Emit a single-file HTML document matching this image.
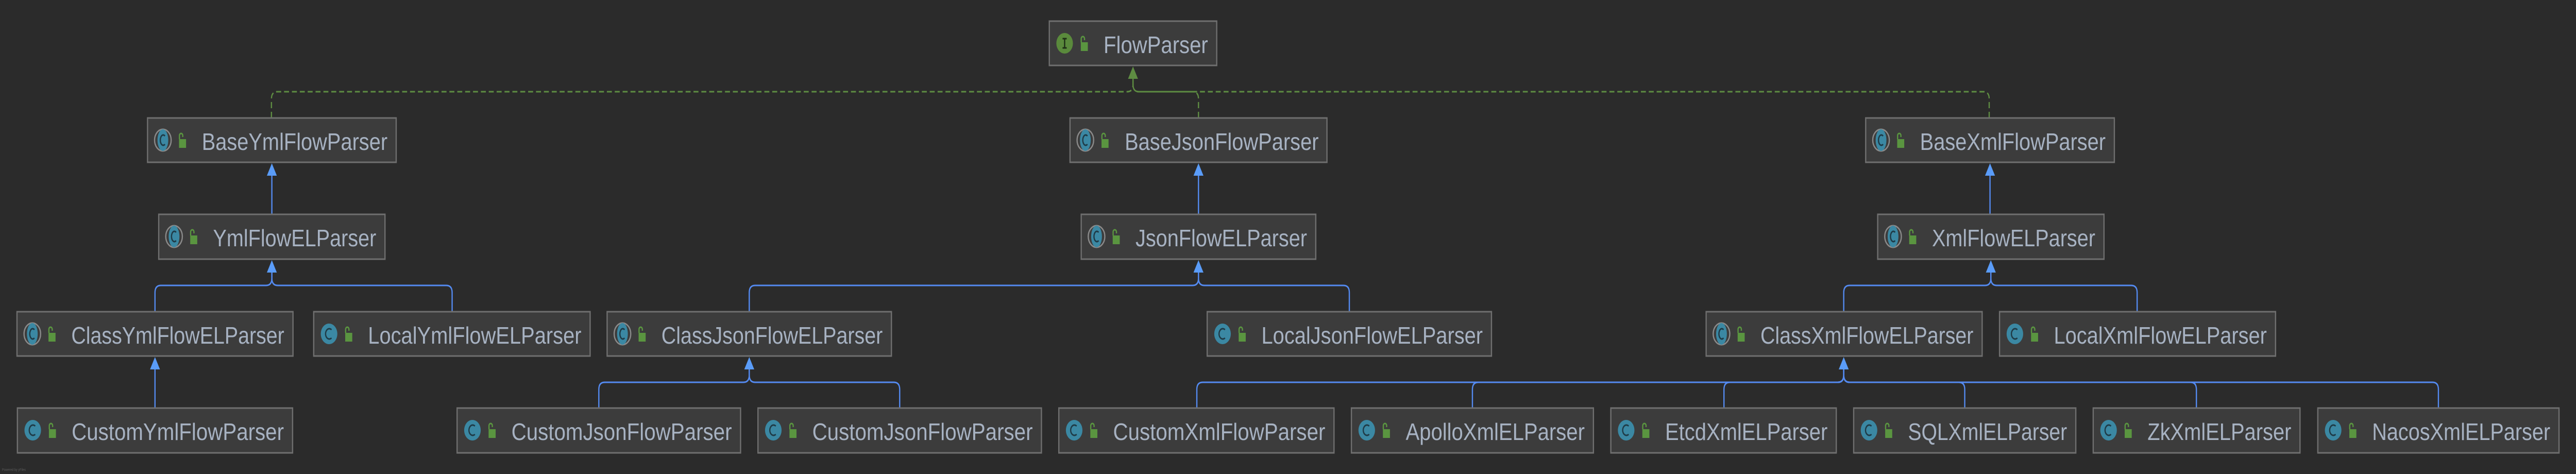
<!DOCTYPE html>
<html><head><meta charset="utf-8"><style>
html,body{margin:0;padding:0;background:#2b2b2b;overflow:hidden;width:100%;height:100%;}
svg{display:block;width:100vw;height:100vh;}
.b{fill:#3c3c3c;stroke:#6f6f6f;stroke-width:3;}
.t{font-family:"Liberation Sans",sans-serif;font-size:46px;fill:#a7b2c2;}
.ln{fill:none;stroke:#548af0;stroke-width:3;}
.ah{fill:#5a9cf8;}
.dl{fill:none;stroke:#5e8c42;stroke-width:3;stroke-dasharray:12 7;}
</style></head><body>
<svg viewBox="0 0 6216 920" preserveAspectRatio="none" xmlns="http://www.w3.org/2000/svg">
<defs>
<g id="ci"><circle cx="37" cy="43" r="20" fill="#3b88a3"/><path d="M43 35 A9 10 0 1 0 43 51" fill="none" stroke="#1f3b47" stroke-width="3"/></g>
<g id="ca"><ellipse cx="37" cy="43" rx="20" ry="21" fill="none" stroke="#8a8a8a" stroke-width="3"/><ellipse cx="37" cy="43" rx="13" ry="21" fill="#3b88a3"/><path d="M42 35 A7 10 0 1 0 42 51" fill="none" stroke="#1f3b47" stroke-width="3"/></g>
<g id="lk"><rect x="76" y="41" width="17" height="17" fill="#5a9540"/><path d="M77 41 V34 A4 4 0 0 1 85 34 V37" fill="none" stroke="#5a9540" stroke-width="3"/></g>
</defs>

<path class="dl" d="M655 229 V192 Q655 178 669 178 H2720 Q2734 178 2734 164 V152"/>
<path class="dl" d="M2892 229 V192 Q2892 178 2878 178 H2748 Q2734 178 2734 164 V152"/>
<path class="dl" d="M4800 229 V192 Q4800 178 4786 178 H2748 Q2734 178 2734 164 V152"/>
<polygon points="2734,129 2722,153 2746,153" fill="#5e8c42"/>

<path class="ln" d="M656 416 V340"/><polygon class="ah" points="656,317 644,341 668,341"/>
<path class="ln" d="M2892 416 V340"/><polygon class="ah" points="2892,317 2880,341 2904,341"/>
<path class="ln" d="M4802 416 V340"/><polygon class="ah" points="4802,317 4790,341 4814,341"/>

<path class="ln" d="M374 605 V568 Q374 554 388 554 H642 Q656 554 656 540 V527"/>
<path class="ln" d="M1091 605 V568 Q1091 554 1077 554 H670 Q656 554 656 540 V527"/>
<polygon class="ah" points="656,505 644,529 668,529"/>
<path class="ln" d="M1808 605 V568 Q1808 554 1822 554 H2878 Q2892 554 2892 540 V527"/>
<path class="ln" d="M3256 605 V568 Q3256 554 3242 554 H2906 Q2892 554 2892 540 V527"/>
<polygon class="ah" points="2892,505 2880,529 2904,529"/>
<path class="ln" d="M4449 605 V568 Q4449 554 4463 554 H4790 Q4804 554 4804 540 V527"/>
<path class="ln" d="M5157 605 V568 Q5157 554 5143 554 H4818 Q4804 554 4804 540 V527"/>
<polygon class="ah" points="4804,505 4792,529 4816,529"/>

<path class="ln" d="M374 792 V715"/><polygon class="ah" points="374,693 362,717 386,717"/>
<path class="ln" d="M1445 792 V756 Q1445 742 1459 742 H1794 Q1808 742 1808 728 V715"/>
<path class="ln" d="M2171 792 V756 Q2171 742 2157 742 H1822 Q1808 742 1808 728 V715"/>
<polygon class="ah" points="1808,693 1796,717 1820,717"/>
<path class="ln" d="M2888 792 V756 Q2888 742 2902 742 H4435 Q4449 742 4449 728 V715"/>
<path class="ln" d="M3553 792 V756 Q3553 742 3567 742 H4435 Q4449 742 4449 728 V715"/>
<path class="ln" d="M4160 792 V756 Q4160 742 4174 742 H4435 Q4449 742 4449 728 V715"/>
<path class="ln" d="M4741 792 V756 Q4741 742 4727 742 H4463 Q4449 742 4449 728 V715"/>
<path class="ln" d="M5300 792 V756 Q5300 742 5286 742 H4463 Q4449 742 4449 728 V715"/>
<path class="ln" d="M5884 792 V756 Q5884 742 5870 742 H4463 Q4449 742 4449 728 V715"/>
<polygon class="ah" points="4449,693 4437,717 4461,717"/>

<g transform="translate(2532,41)"><rect class="b" width="404" height="86"/><circle cx="37" cy="43" r="20" fill="#5a8a3c"/><path d="M37 34 V52 M32 34 H42 M32 52 H42" stroke="#1e2e16" stroke-width="3"/><use href="#lk"/><text class="t" x="131" y="62" textLength="252" lengthAdjust="spacingAndGlyphs">FlowParser</text></g>

<g transform="translate(356,229)"><rect class="b" width="600" height="86"/><use href="#ca"/><use href="#lk"/><text class="t" x="131" y="62" textLength="448" lengthAdjust="spacingAndGlyphs">BaseYmlFlowParser</text></g>
<g transform="translate(2582,229)"><rect class="b" width="620" height="86"/><use href="#ca"/><use href="#lk"/><text class="t" x="132" y="62" textLength="468" lengthAdjust="spacingAndGlyphs">BaseJsonFlowParser</text></g>
<g transform="translate(4502,229)"><rect class="b" width="600" height="86"/><use href="#ca"/><use href="#lk"/><text class="t" x="131" y="62" textLength="448" lengthAdjust="spacingAndGlyphs">BaseXmlFlowParser</text></g>

<g transform="translate(383,416)"><rect class="b" width="546" height="87"/><use href="#ca"/><use href="#lk"/><text class="t" x="131" y="62" textLength="394" lengthAdjust="spacingAndGlyphs">YmlFlowELParser</text></g>
<g transform="translate(2609,416)"><rect class="b" width="566" height="87"/><use href="#ca"/><use href="#lk"/><text class="t" x="131" y="62" textLength="414" lengthAdjust="spacingAndGlyphs">JsonFlowELParser</text></g>
<g transform="translate(4531,416)"><rect class="b" width="546" height="87"/><use href="#ca"/><use href="#lk"/><text class="t" x="131" y="62" textLength="394" lengthAdjust="spacingAndGlyphs">XmlFlowELParser</text></g>

<g transform="translate(41,605)"><rect class="b" width="666" height="86"/><use href="#ca"/><use href="#lk"/><text class="t" x="131" y="62" textLength="514" lengthAdjust="spacingAndGlyphs">ClassYmlFlowELParser</text></g>
<g transform="translate(757,605)"><rect class="b" width="667" height="86"/><use href="#ci"/><use href="#lk"/><text class="t" x="131" y="62" textLength="515" lengthAdjust="spacingAndGlyphs">LocalYmlFlowELParser</text></g>
<g transform="translate(1465,605)"><rect class="b" width="686" height="86"/><use href="#ca"/><use href="#lk"/><text class="t" x="131" y="62" textLength="534" lengthAdjust="spacingAndGlyphs">ClassJsonFlowELParser</text></g>
<g transform="translate(2913,605)"><rect class="b" width="686" height="86"/><use href="#ci"/><use href="#lk"/><text class="t" x="131" y="62" textLength="534" lengthAdjust="spacingAndGlyphs">LocalJsonFlowELParser</text></g>
<g transform="translate(4117,605)"><rect class="b" width="666" height="86"/><use href="#ca"/><use href="#lk"/><text class="t" x="131" y="62" textLength="514" lengthAdjust="spacingAndGlyphs">ClassXmlFlowELParser</text></g>
<g transform="translate(4825,605)"><rect class="b" width="666" height="86"/><use href="#ci"/><use href="#lk"/><text class="t" x="131" y="62" textLength="514" lengthAdjust="spacingAndGlyphs">LocalXmlFlowELParser</text></g>

<g transform="translate(42,792)"><rect class="b" width="664" height="87"/><use href="#ci"/><use href="#lk"/><text class="t" x="131" y="62" textLength="512" lengthAdjust="spacingAndGlyphs">CustomYmlFlowParser</text></g>
<g transform="translate(1103,792)"><rect class="b" width="684" height="87"/><use href="#ci"/><use href="#lk"/><text class="t" x="131" y="62" textLength="532" lengthAdjust="spacingAndGlyphs">CustomJsonFlowParser</text></g>
<g transform="translate(1829,792)"><rect class="b" width="684" height="87"/><use href="#ci"/><use href="#lk"/><text class="t" x="131" y="62" textLength="532" lengthAdjust="spacingAndGlyphs">CustomJsonFlowParser</text></g>
<g transform="translate(2555,792)"><rect class="b" width="664" height="87"/><use href="#ci"/><use href="#lk"/><text class="t" x="131" y="62" textLength="512" lengthAdjust="spacingAndGlyphs">CustomXmlFlowParser</text></g>
<g transform="translate(3261,792)"><rect class="b" width="584" height="87"/><use href="#ci"/><use href="#lk"/><text class="t" x="131" y="62" textLength="432" lengthAdjust="spacingAndGlyphs">ApolloXmlELParser</text></g>
<g transform="translate(3887,792)"><rect class="b" width="544" height="87"/><use href="#ci"/><use href="#lk"/><text class="t" x="131" y="62" textLength="392" lengthAdjust="spacingAndGlyphs">EtcdXmlELParser</text></g>
<g transform="translate(4473,792)"><rect class="b" width="536" height="87"/><use href="#ci"/><use href="#lk"/><text class="t" x="131" y="62" textLength="384" lengthAdjust="spacingAndGlyphs">SQLXmlELParser</text></g>
<g transform="translate(5051,792)"><rect class="b" width="499" height="87"/><use href="#ci"/><use href="#lk"/><text class="t" x="131" y="62" textLength="347" lengthAdjust="spacingAndGlyphs">ZkXmlELParser</text></g>
<g transform="translate(5593,792)"><rect class="b" width="582" height="87"/><use href="#ci"/><use href="#lk"/><text class="t" x="131" y="62" textLength="430" lengthAdjust="spacingAndGlyphs">NacosXmlELParser</text></g>

<text x="5" y="914" font-family="Liberation Sans, sans-serif" font-size="7" fill="#5a5a5a">Powered by yFiles</text>
</svg>
</body></html>
